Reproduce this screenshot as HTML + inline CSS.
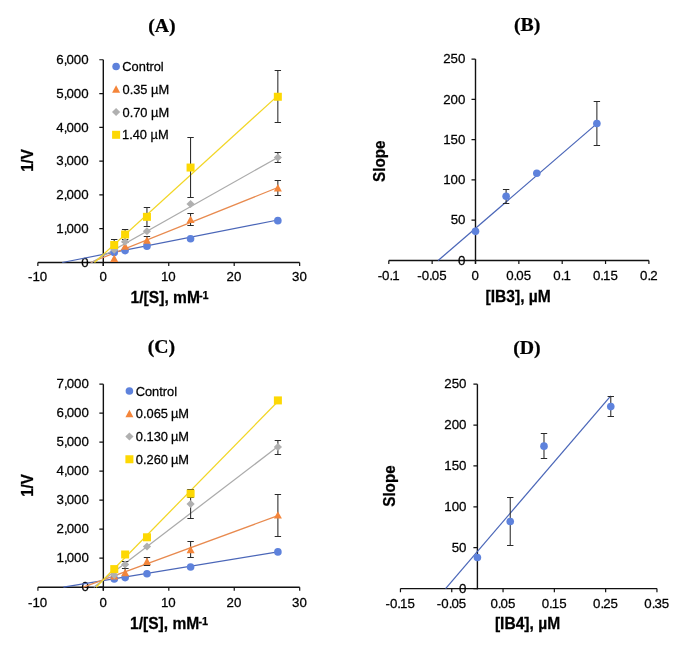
<!DOCTYPE html>
<html><head><meta charset="utf-8"><title>Lineweaver-Burk plots</title><style>
html,body{margin:0;padding:0;background:#fff;width:685px;height:651px;overflow:hidden;font-family:"Liberation Sans",sans-serif}
svg{display:block;filter:blur(0.35px)}
</style></head><body>
<svg width="685" height="651" viewBox="0 0 685 651">
<rect width="685" height="651" fill="#fff"/>
<path d="M37.85 262.50 H299.65" stroke="#111" stroke-width="1.4" fill="none"/>
<path d="M103.30 265.90 V59.76" stroke="#111" stroke-width="1.4" fill="none"/>
<path d="M37.85 262.50 V266.10 M103.30 262.50 V266.10 M168.75 262.50 V266.10 M234.20 262.50 V266.10 M299.65 262.50 V266.10 " stroke="#111" stroke-width="1.2" fill="none"/>
<path d="M99.30 262.50 H103.30 M99.30 228.71 H103.30 M99.30 194.92 H103.30 M99.30 161.13 H103.30 M99.30 127.34 H103.30 M99.30 93.55 H103.30 M99.30 59.76 H103.30 " stroke="#111" stroke-width="1.2" fill="none"/>
<text transform="translate(28.00 281.36) scale(1 1.0075)" font-family='"Liberation Sans", sans-serif' font-weight="400" font-size="13.3" fill="#000" stroke="#000" stroke-width="0.25">-10</text>
<text transform="translate(99.40 281.36) scale(1 1.0075)" font-family='"Liberation Sans", sans-serif' font-weight="400" font-size="13.3" fill="#000" stroke="#000" stroke-width="0.25">0</text>
<text transform="translate(160.91 281.36) scale(1 1.0075)" font-family='"Liberation Sans", sans-serif' font-weight="400" font-size="13.3" fill="#000" stroke="#000" stroke-width="0.25">10</text>
<text transform="translate(226.53 281.36) scale(1 1.0075)" font-family='"Liberation Sans", sans-serif' font-weight="400" font-size="13.3" fill="#000" stroke="#000" stroke-width="0.25">20</text>
<text transform="translate(292.06 281.36) scale(1 1.0075)" font-family='"Liberation Sans", sans-serif' font-weight="400" font-size="13.3" fill="#000" stroke="#000" stroke-width="0.25">30</text>
<text transform="translate(81.22 266.71) scale(1 1.0075)" font-family='"Liberation Sans", sans-serif' font-weight="400" font-size="13.3" fill="#000" stroke="#000" stroke-width="0.25">0</text>
<text transform="translate(56.28 232.92) scale(1 1.0075)" font-family='"Liberation Sans", sans-serif' font-weight="400" font-size="13.3" fill="#000" stroke="#000" stroke-width="0.25">1,<tspan dx="-0.94">000</tspan></text>
<text transform="translate(56.28 199.13) scale(1 1.0075)" font-family='"Liberation Sans", sans-serif' font-weight="400" font-size="13.3" fill="#000" stroke="#000" stroke-width="0.25">2,<tspan dx="-0.94">000</tspan></text>
<text transform="translate(56.28 165.34) scale(1 1.0075)" font-family='"Liberation Sans", sans-serif' font-weight="400" font-size="13.3" fill="#000" stroke="#000" stroke-width="0.25">3,<tspan dx="-0.94">000</tspan></text>
<text transform="translate(56.28 131.55) scale(1 1.0075)" font-family='"Liberation Sans", sans-serif' font-weight="400" font-size="13.3" fill="#000" stroke="#000" stroke-width="0.25">4,<tspan dx="-0.94">000</tspan></text>
<text transform="translate(56.28 97.76) scale(1 1.0075)" font-family='"Liberation Sans", sans-serif' font-weight="400" font-size="13.3" fill="#000" stroke="#000" stroke-width="0.25">5,<tspan dx="-0.94">000</tspan></text>
<text transform="translate(56.28 63.97) scale(1 1.0075)" font-family='"Liberation Sans", sans-serif' font-weight="400" font-size="13.3" fill="#000" stroke="#000" stroke-width="0.25">6,<tspan dx="-0.94">000</tspan></text>
<line x1="62.26" y1="262.50" x2="277.84" y2="219.99" stroke="#4a66b8" stroke-width="1.25"/>
<line x1="90.67" y1="262.49" x2="277.84" y2="187.51" stroke="#e88a4f" stroke-width="1.25"/>
<line x1="91.52" y1="262.49" x2="277.84" y2="157.45" stroke="#ababab" stroke-width="1.25"/>
<line x1="94.46" y1="262.50" x2="277.84" y2="95.60" stroke="#f2d625" stroke-width="1.25"/>
<path d="M125.11 242.50 V249.50 M121.91 242.50 H128.31 M121.91 249.50 H128.31" stroke="#2a2a2a" stroke-width="1.05" fill="none"/>
<path d="M146.94 236.50 V244.50 M143.74 236.50 H150.14 M143.74 244.50 H150.14" stroke="#2a2a2a" stroke-width="1.05" fill="none"/>
<path d="M190.56 213.50 V225.50 M187.36 213.50 H193.76 M187.36 225.50 H193.76" stroke="#2a2a2a" stroke-width="1.05" fill="none"/>
<path d="M277.84 180.50 V195.50 M274.64 180.50 H281.04 M274.64 195.50 H281.04" stroke="#2a2a2a" stroke-width="1.05" fill="none"/>
<path d="M277.84 152.50 V162.50 M274.64 152.50 H281.04 M274.64 162.50 H281.04" stroke="#2a2a2a" stroke-width="1.05" fill="none"/>
<path d="M114.21 239.50 V250.50 M111.01 239.50 H117.41 M111.01 250.50 H117.41" stroke="#2a2a2a" stroke-width="1.05" fill="none"/>
<path d="M125.11 229.50 V239.50 M121.91 229.50 H128.31 M121.91 239.50 H128.31" stroke="#2a2a2a" stroke-width="1.05" fill="none"/>
<path d="M146.94 207.50 V226.50 M143.74 207.50 H150.14 M143.74 226.50 H150.14" stroke="#2a2a2a" stroke-width="1.05" fill="none"/>
<path d="M190.56 137.50 V197.50 M187.36 137.50 H193.76 M187.36 197.50 H193.76" stroke="#2a2a2a" stroke-width="1.05" fill="none"/>
<path d="M277.84 70.50 V122.50 M274.64 70.50 H281.04 M274.64 122.50 H281.04" stroke="#2a2a2a" stroke-width="1.05" fill="none"/>
<circle cx="114.21" cy="252.40" r="3.8" fill="#5e82dc"/>
<circle cx="125.11" cy="250.61" r="3.8" fill="#5e82dc"/>
<circle cx="146.94" cy="246.31" r="3.8" fill="#5e82dc"/>
<circle cx="190.56" cy="238.71" r="3.8" fill="#5e82dc"/>
<circle cx="277.84" cy="220.63" r="3.8" fill="#5e82dc"/>
<path d="M114.21 254.51 L118.21 261.91 L110.21 261.91 Z" fill="#f4853a"/>
<path d="M125.11 242.31 L129.11 249.71 L121.11 249.71 Z" fill="#f4853a"/>
<path d="M146.94 236.44 L150.94 243.84 L142.94 243.84 Z" fill="#f4853a"/>
<path d="M190.56 215.65 L194.56 223.05 L186.56 223.05 Z" fill="#f4853a"/>
<path d="M277.84 184.06 L281.84 191.46 L273.84 191.46 Z" fill="#f4853a"/>
<path d="M114.21 245.63 L118.31 249.63 L114.21 253.63 L110.11 249.63 Z" fill="#b0b0b0"/>
<path d="M125.11 237.72 L129.21 241.72 L125.11 245.72 L121.01 241.72 Z" fill="#b0b0b0"/>
<path d="M146.94 227.24 L151.04 231.24 L146.94 235.24 L142.84 231.24 Z" fill="#b0b0b0"/>
<path d="M190.56 199.94 L194.66 203.94 L190.56 207.94 L186.46 203.94 Z" fill="#b0b0b0"/>
<path d="M277.84 153.48 L281.94 157.48 L277.84 161.48 L273.74 157.48 Z" fill="#b0b0b0"/>
<rect x="110.21" y="241.03" width="8.0" height="8.0" fill="#fdd803"/>
<rect x="121.11" y="230.52" width="8.0" height="8.0" fill="#fdd803"/>
<rect x="142.94" y="212.85" width="8.0" height="8.0" fill="#fdd803"/>
<rect x="186.56" y="163.55" width="8.0" height="8.0" fill="#fdd803"/>
<rect x="273.84" y="92.76" width="8.0" height="8.0" fill="#fdd803"/>
<circle cx="116.10" cy="66.50" r="3.8" fill="#5e82dc"/>
<text transform="translate(122.35 71.00) scale(1 1.0039)" font-family='"Liberation Sans", sans-serif' font-weight="400" font-size="12.85" fill="#000" stroke="#000" stroke-width="0.25">Control</text>
<path d="M116.10 85.27 L120.10 92.67 L112.10 92.67 Z" fill="#f4853a"/>
<text transform="translate(122.50 93.77) scale(1 1.0039)" font-family='"Liberation Sans", sans-serif' font-weight="400" font-size="12.85" fill="#000" stroke="#000" stroke-width="0.25">0.35 µM</text>
<path d="M116.10 108.04 L120.20 112.04 L116.10 116.04 L112.00 112.04 Z" fill="#b0b0b0"/>
<text transform="translate(122.50 116.54) scale(1 1.0039)" font-family='"Liberation Sans", sans-serif' font-weight="400" font-size="12.85" fill="#000" stroke="#000" stroke-width="0.25">0.70 µM</text>
<rect x="112.10" y="130.81" width="8.0" height="8.0" fill="#fdd803"/>
<text transform="translate(122.02 139.31) scale(1 1.0039)" font-family='"Liberation Sans", sans-serif' font-weight="400" font-size="12.85" fill="#000" stroke="#000" stroke-width="0.25">1.40 µM</text>
<text transform="translate(148.23 31.90) scale(1 0.9596)" font-family='"Liberation Serif", serif' font-weight="700" font-size="19.8" fill="#000" stroke="#000" stroke-width="0.25">(A)</text>
<text transform="translate(130.62 302.90) scale(1 1.0128)" font-family='"Liberation Sans", sans-serif' font-weight="700" font-size="15.6" fill="#000" stroke="#000" stroke-width="0.25">1/[S], mM</text>
<text transform="translate(198.99 298.70) scale(1 1.0000)" font-family='"Liberation Sans", sans-serif' font-weight="700" font-size="10.9" fill="#000" stroke="#000" stroke-width="0.25">-1</text>
<text transform="translate(32.80 160.00) rotate(-90) scale(1 1.0658)" x="-11.83" y="0" font-family='"Liberation Sans", sans-serif' font-weight="700" font-size="15.2" fill="#000" stroke="#000" stroke-width="0.25">1/V</text>
<path d="M37.90 587.20 H299.70" stroke="#111" stroke-width="1.4" fill="none"/>
<path d="M103.35 590.60 V384.20" stroke="#111" stroke-width="1.4" fill="none"/>
<path d="M37.90 587.20 V590.80 M103.35 587.20 V590.80 M168.80 587.20 V590.80 M234.25 587.20 V590.80 M299.70 587.20 V590.80 " stroke="#111" stroke-width="1.2" fill="none"/>
<path d="M99.35 587.20 H103.35 M99.35 558.20 H103.35 M99.35 529.20 H103.35 M99.35 500.20 H103.35 M99.35 471.20 H103.35 M99.35 442.20 H103.35 M99.35 413.20 H103.35 M99.35 384.20 H103.35 " stroke="#111" stroke-width="1.2" fill="none"/>
<text transform="translate(28.05 606.66) scale(1 1.0075)" font-family='"Liberation Sans", sans-serif' font-weight="400" font-size="13.3" fill="#000" stroke="#000" stroke-width="0.25">-10</text>
<text transform="translate(99.45 606.66) scale(1 1.0075)" font-family='"Liberation Sans", sans-serif' font-weight="400" font-size="13.3" fill="#000" stroke="#000" stroke-width="0.25">0</text>
<text transform="translate(160.96 606.66) scale(1 1.0075)" font-family='"Liberation Sans", sans-serif' font-weight="400" font-size="13.3" fill="#000" stroke="#000" stroke-width="0.25">10</text>
<text transform="translate(226.58 606.66) scale(1 1.0075)" font-family='"Liberation Sans", sans-serif' font-weight="400" font-size="13.3" fill="#000" stroke="#000" stroke-width="0.25">20</text>
<text transform="translate(292.11 606.66) scale(1 1.0075)" font-family='"Liberation Sans", sans-serif' font-weight="400" font-size="13.3" fill="#000" stroke="#000" stroke-width="0.25">30</text>
<text transform="translate(81.52 591.41) scale(1 1.0075)" font-family='"Liberation Sans", sans-serif' font-weight="400" font-size="13.3" fill="#000" stroke="#000" stroke-width="0.25">0</text>
<text transform="translate(56.58 562.41) scale(1 1.0075)" font-family='"Liberation Sans", sans-serif' font-weight="400" font-size="13.3" fill="#000" stroke="#000" stroke-width="0.25">1,<tspan dx="-0.94">000</tspan></text>
<text transform="translate(56.58 533.41) scale(1 1.0075)" font-family='"Liberation Sans", sans-serif' font-weight="400" font-size="13.3" fill="#000" stroke="#000" stroke-width="0.25">2,<tspan dx="-0.94">000</tspan></text>
<text transform="translate(56.58 504.41) scale(1 1.0075)" font-family='"Liberation Sans", sans-serif' font-weight="400" font-size="13.3" fill="#000" stroke="#000" stroke-width="0.25">3,<tspan dx="-0.94">000</tspan></text>
<text transform="translate(56.58 475.41) scale(1 1.0075)" font-family='"Liberation Sans", sans-serif' font-weight="400" font-size="13.3" fill="#000" stroke="#000" stroke-width="0.25">4,<tspan dx="-0.94">000</tspan></text>
<text transform="translate(56.58 446.41) scale(1 1.0075)" font-family='"Liberation Sans", sans-serif' font-weight="400" font-size="13.3" fill="#000" stroke="#000" stroke-width="0.25">5,<tspan dx="-0.94">000</tspan></text>
<text transform="translate(56.58 417.41) scale(1 1.0075)" font-family='"Liberation Sans", sans-serif' font-weight="400" font-size="13.3" fill="#000" stroke="#000" stroke-width="0.25">6,<tspan dx="-0.94">000</tspan></text>
<text transform="translate(56.58 388.41) scale(1 1.0075)" font-family='"Liberation Sans", sans-serif' font-weight="400" font-size="13.3" fill="#000" stroke="#000" stroke-width="0.25">7,<tspan dx="-0.94">000</tspan></text>
<line x1="63.43" y1="587.18" x2="277.89" y2="551.93" stroke="#4a66b8" stroke-width="1.25"/>
<line x1="83.32" y1="587.20" x2="277.89" y2="515.65" stroke="#e88a4f" stroke-width="1.25"/>
<line x1="93.79" y1="587.19" x2="277.89" y2="446.57" stroke="#ababab" stroke-width="1.25"/>
<line x1="96.02" y1="587.20" x2="277.89" y2="401.46" stroke="#f2d625" stroke-width="1.25"/>
<path d="M125.16 568.50 V576.50 M121.96 568.50 H128.36 M121.96 576.50 H128.36" stroke="#2a2a2a" stroke-width="1.05" fill="none"/>
<path d="M146.99 557.50 V565.50 M143.79 557.50 H150.19 M143.79 565.50 H150.19" stroke="#2a2a2a" stroke-width="1.05" fill="none"/>
<path d="M190.61 541.50 V557.50 M187.41 541.50 H193.81 M187.41 557.50 H193.81" stroke="#2a2a2a" stroke-width="1.05" fill="none"/>
<path d="M277.89 494.50 V536.50 M274.69 494.50 H281.09 M274.69 536.50 H281.09" stroke="#2a2a2a" stroke-width="1.05" fill="none"/>
<path d="M125.16 561.50 V568.50 M121.96 561.50 H128.36 M121.96 568.50 H128.36" stroke="#2a2a2a" stroke-width="1.05" fill="none"/>
<path d="M190.61 489.50 V518.50 M187.41 489.50 H193.81 M187.41 518.50 H193.81" stroke="#2a2a2a" stroke-width="1.05" fill="none"/>
<path d="M277.89 440.50 V454.50 M274.69 440.50 H281.09 M274.69 454.50 H281.09" stroke="#2a2a2a" stroke-width="1.05" fill="none"/>
<path d="M190.61 489.50 V497.50 M187.41 489.50 H193.81 M187.41 497.50 H193.81" stroke="#2a2a2a" stroke-width="1.05" fill="none"/>
<circle cx="114.26" cy="578.91" r="3.8" fill="#5e82dc"/>
<circle cx="125.16" cy="577.60" r="3.8" fill="#5e82dc"/>
<circle cx="146.99" cy="573.69" r="3.8" fill="#5e82dc"/>
<circle cx="190.61" cy="566.99" r="3.8" fill="#5e82dc"/>
<circle cx="277.89" cy="551.91" r="3.8" fill="#5e82dc"/>
<path d="M114.26 572.09 L118.26 579.49 L110.26 579.49 Z" fill="#f4853a"/>
<path d="M125.16 568.79 L129.16 576.19 L121.16 576.19 Z" fill="#f4853a"/>
<path d="M146.99 557.51 L150.99 564.91 L142.99 564.91 Z" fill="#f4853a"/>
<path d="M190.61 545.79 L194.61 553.19 L186.61 553.19 Z" fill="#f4853a"/>
<path d="M277.89 511.19 L281.89 518.59 L273.89 518.59 Z" fill="#f4853a"/>
<path d="M114.26 571.02 L118.36 575.02 L114.26 579.02 L110.16 575.02 Z" fill="#b0b0b0"/>
<path d="M125.16 560.61 L129.26 564.61 L125.16 568.61 L121.06 564.61 Z" fill="#b0b0b0"/>
<path d="M146.99 542.60 L151.09 546.60 L146.99 550.60 L142.89 546.60 Z" fill="#b0b0b0"/>
<path d="M190.61 500.09 L194.71 504.09 L190.61 508.09 L186.51 504.09 Z" fill="#b0b0b0"/>
<path d="M277.89 443.10 L281.99 447.10 L277.89 451.10 L273.79 447.10 Z" fill="#b0b0b0"/>
<rect x="110.26" y="565.10" width="8.0" height="8.0" fill="#fdd803"/>
<rect x="121.16" y="550.49" width="8.0" height="8.0" fill="#fdd803"/>
<rect x="142.99" y="533.29" width="8.0" height="8.0" fill="#fdd803"/>
<rect x="186.61" y="489.59" width="8.0" height="8.0" fill="#fdd803"/>
<rect x="273.89" y="396.41" width="8.0" height="8.0" fill="#fdd803"/>
<circle cx="129.40" cy="391.00" r="3.8" fill="#5e82dc"/>
<text transform="translate(135.65 395.50) scale(1 1.0039)" font-family='"Liberation Sans", sans-serif' font-weight="400" font-size="12.85" fill="#000" stroke="#000" stroke-width="0.25">Control</text>
<path d="M129.40 409.75 L133.40 417.15 L125.40 417.15 Z" fill="#f4853a"/>
<text transform="translate(135.80 418.25) scale(1 1.0039)" font-family='"Liberation Sans", sans-serif' font-weight="400" font-size="12.85" fill="#000" stroke="#000" stroke-width="0.25">0.065 <tspan dx="-0.56">µM</tspan></text>
<path d="M129.40 432.50 L133.50 436.50 L129.40 440.50 L125.30 436.50 Z" fill="#b0b0b0"/>
<text transform="translate(135.80 441.00) scale(1 1.0039)" font-family='"Liberation Sans", sans-serif' font-weight="400" font-size="12.85" fill="#000" stroke="#000" stroke-width="0.25">0.130 <tspan dx="-0.56">µM</tspan></text>
<rect x="125.40" y="455.25" width="8.0" height="8.0" fill="#fdd803"/>
<text transform="translate(135.80 463.75) scale(1 1.0039)" font-family='"Liberation Sans", sans-serif' font-weight="400" font-size="12.85" fill="#000" stroke="#000" stroke-width="0.25">0.260 <tspan dx="-0.56">µM</tspan></text>
<text transform="translate(147.73 352.80) scale(1 0.9596)" font-family='"Liberation Serif", serif' font-weight="700" font-size="19.8" fill="#000" stroke="#000" stroke-width="0.25">(C)</text>
<text transform="translate(130.02 628.90) scale(1 1.0128)" font-family='"Liberation Sans", sans-serif' font-weight="700" font-size="15.6" fill="#000" stroke="#000" stroke-width="0.25">1/[S], mM</text>
<text transform="translate(198.39 624.70) scale(1 1.0000)" font-family='"Liberation Sans", sans-serif' font-weight="700" font-size="10.9" fill="#000" stroke="#000" stroke-width="0.25">-1</text>
<text transform="translate(32.80 485.00) rotate(-90) scale(1 1.0658)" x="-11.83" y="0" font-family='"Liberation Sans", sans-serif' font-weight="700" font-size="15.2" fill="#000" stroke="#000" stroke-width="0.25">1/V</text>
<path d="M388.80 260.50 H648.90" stroke="#111" stroke-width="1.4" fill="none"/>
<path d="M475.50 263.90 V59.10" stroke="#111" stroke-width="1.4" fill="none"/>
<path d="M388.80 260.50 V264.10 M432.15 260.50 V264.10 M475.50 260.50 V264.10 M518.85 260.50 V264.10 M562.20 260.50 V264.10 M605.55 260.50 V264.10 M648.90 260.50 V264.10 " stroke="#111" stroke-width="1.2" fill="none"/>
<path d="M471.50 260.50 H475.50 M471.50 220.22 H475.50 M471.50 179.94 H475.50 M471.50 139.66 H475.50 M471.50 99.38 H475.50 M471.50 59.10 H475.50 " stroke="#111" stroke-width="1.2" fill="none"/>
<text transform="translate(377.64 279.96) scale(1 1.0075)" font-family='"Liberation Sans", sans-serif' font-weight="400" font-size="13.3" fill="#000" stroke="#000" stroke-width="0.25">-0.<tspan dx="-0.94">1</tspan></text>
<text transform="translate(417.25 279.96) scale(1 1.0075)" font-family='"Liberation Sans", sans-serif' font-weight="400" font-size="13.3" fill="#000" stroke="#000" stroke-width="0.25">-0.<tspan dx="-0.94">05</tspan></text>
<text transform="translate(471.60 279.96) scale(1 1.0075)" font-family='"Liberation Sans", sans-serif' font-weight="400" font-size="13.3" fill="#000" stroke="#000" stroke-width="0.25">0</text>
<text transform="translate(506.20 279.96) scale(1 1.0075)" font-family='"Liberation Sans", sans-serif' font-weight="400" font-size="13.3" fill="#000" stroke="#000" stroke-width="0.25">0.<tspan dx="-0.94">05</tspan></text>
<text transform="translate(553.29 279.96) scale(1 1.0075)" font-family='"Liberation Sans", sans-serif' font-weight="400" font-size="13.3" fill="#000" stroke="#000" stroke-width="0.25">0.<tspan dx="-0.94">1</tspan></text>
<text transform="translate(592.90 279.96) scale(1 1.0075)" font-family='"Liberation Sans", sans-serif' font-weight="400" font-size="13.3" fill="#000" stroke="#000" stroke-width="0.25">0.<tspan dx="-0.94">15</tspan></text>
<text transform="translate(640.00 279.96) scale(1 1.0075)" font-family='"Liberation Sans", sans-serif' font-weight="400" font-size="13.3" fill="#000" stroke="#000" stroke-width="0.25">0.<tspan dx="-0.94">2</tspan></text>
<text transform="translate(458.02 264.71) scale(1 1.0075)" font-family='"Liberation Sans", sans-serif' font-weight="400" font-size="13.3" fill="#000" stroke="#000" stroke-width="0.25">0</text>
<text transform="translate(450.63 224.43) scale(1 1.0075)" font-family='"Liberation Sans", sans-serif' font-weight="400" font-size="13.3" fill="#000" stroke="#000" stroke-width="0.25">50</text>
<text transform="translate(443.23 184.15) scale(1 1.0075)" font-family='"Liberation Sans", sans-serif' font-weight="400" font-size="13.3" fill="#000" stroke="#000" stroke-width="0.25">100</text>
<text transform="translate(443.23 143.87) scale(1 1.0075)" font-family='"Liberation Sans", sans-serif' font-weight="400" font-size="13.3" fill="#000" stroke="#000" stroke-width="0.25">150</text>
<text transform="translate(443.23 103.59) scale(1 1.0075)" font-family='"Liberation Sans", sans-serif' font-weight="400" font-size="13.3" fill="#000" stroke="#000" stroke-width="0.25">200</text>
<text transform="translate(443.23 63.31) scale(1 1.0075)" font-family='"Liberation Sans", sans-serif' font-weight="400" font-size="13.3" fill="#000" stroke="#000" stroke-width="0.25">250</text>
<line x1="438.13" y1="260.50" x2="596.88" y2="123.61" stroke="#4a66b8" stroke-width="1.25"/>
<path d="M506.11 189.50 V203.50 M502.91 189.50 H509.31 M502.91 203.50 H509.31" stroke="#2a2a2a" stroke-width="1.05" fill="none"/>
<path d="M596.88 101.50 V145.50 M593.68 101.50 H600.08 M593.68 145.50 H600.08" stroke="#2a2a2a" stroke-width="1.05" fill="none"/>
<circle cx="475.50" cy="231.34" r="3.8" fill="#5e82dc"/>
<circle cx="506.11" cy="196.29" r="3.8" fill="#5e82dc"/>
<circle cx="536.80" cy="173.25" r="3.8" fill="#5e82dc"/>
<circle cx="596.88" cy="123.47" r="3.8" fill="#5e82dc"/>
<text transform="translate(514.03 30.80) scale(1 0.9596)" font-family='"Liberation Serif", serif' font-weight="700" font-size="19.8" fill="#000" stroke="#000" stroke-width="0.25">(B)</text>
<text transform="translate(485.52 301.60) scale(1 1.0128)" font-family='"Liberation Sans", sans-serif' font-weight="700" font-size="15.6" fill="#000" stroke="#000" stroke-width="0.25">[IB3], µM</text>
<text transform="translate(384.60 161.25) rotate(-90) scale(1 1.0658)" x="-20.65" y="0" font-family='"Liberation Sans", sans-serif' font-weight="700" font-size="15.2" fill="#000" stroke="#000" stroke-width="0.25">Slope</text>
<path d="M400.45 588.60 H656.95" stroke="#111" stroke-width="1.4" fill="none"/>
<path d="M477.40 589.30 V384.20" stroke="#111" stroke-width="1.4" fill="none"/>
<path d="M400.45 588.60 V592.20 M451.75 588.60 V592.20 M503.05 588.60 V592.20 M554.35 588.60 V592.20 M605.65 588.60 V592.20 M656.95 588.60 V592.20 " stroke="#111" stroke-width="1.2" fill="none"/>
<path d="M473.40 588.60 H477.40 M473.40 547.72 H477.40 M473.40 506.84 H477.40 M473.40 465.96 H477.40 M473.40 425.08 H477.40 M473.40 384.20 H477.40 " stroke="#111" stroke-width="1.2" fill="none"/>
<text transform="translate(385.55 608.26) scale(1 1.0075)" font-family='"Liberation Sans", sans-serif' font-weight="400" font-size="13.3" fill="#000" stroke="#000" stroke-width="0.25">-0.<tspan dx="-0.94">15</tspan></text>
<text transform="translate(436.85 608.26) scale(1 1.0075)" font-family='"Liberation Sans", sans-serif' font-weight="400" font-size="13.3" fill="#000" stroke="#000" stroke-width="0.25">-0.<tspan dx="-0.94">05</tspan></text>
<text transform="translate(490.40 608.26) scale(1 1.0075)" font-family='"Liberation Sans", sans-serif' font-weight="400" font-size="13.3" fill="#000" stroke="#000" stroke-width="0.25">0.<tspan dx="-0.94">05</tspan></text>
<text transform="translate(541.70 608.26) scale(1 1.0075)" font-family='"Liberation Sans", sans-serif' font-weight="400" font-size="13.3" fill="#000" stroke="#000" stroke-width="0.25">0.<tspan dx="-0.94">15</tspan></text>
<text transform="translate(593.00 608.26) scale(1 1.0075)" font-family='"Liberation Sans", sans-serif' font-weight="400" font-size="13.3" fill="#000" stroke="#000" stroke-width="0.25">0.<tspan dx="-0.94">25</tspan></text>
<text transform="translate(644.30 608.26) scale(1 1.0075)" font-family='"Liberation Sans", sans-serif' font-weight="400" font-size="13.3" fill="#000" stroke="#000" stroke-width="0.25">0.<tspan dx="-0.94">35</tspan></text>
<text transform="translate(459.12 592.81) scale(1 1.0075)" font-family='"Liberation Sans", sans-serif' font-weight="400" font-size="13.3" fill="#000" stroke="#000" stroke-width="0.25">0</text>
<text transform="translate(451.73 551.93) scale(1 1.0075)" font-family='"Liberation Sans", sans-serif' font-weight="400" font-size="13.3" fill="#000" stroke="#000" stroke-width="0.25">50</text>
<text transform="translate(444.33 511.05) scale(1 1.0075)" font-family='"Liberation Sans", sans-serif' font-weight="400" font-size="13.3" fill="#000" stroke="#000" stroke-width="0.25">100</text>
<text transform="translate(444.33 470.17) scale(1 1.0075)" font-family='"Liberation Sans", sans-serif' font-weight="400" font-size="13.3" fill="#000" stroke="#000" stroke-width="0.25">150</text>
<text transform="translate(444.33 429.29) scale(1 1.0075)" font-family='"Liberation Sans", sans-serif' font-weight="400" font-size="13.3" fill="#000" stroke="#000" stroke-width="0.25">200</text>
<text transform="translate(444.33 388.41) scale(1 1.0075)" font-family='"Liberation Sans", sans-serif' font-weight="400" font-size="13.3" fill="#000" stroke="#000" stroke-width="0.25">250</text>
<line x1="445.59" y1="588.57" x2="610.78" y2="395.94" stroke="#4a66b8" stroke-width="1.25"/>
<path d="M510.23 497.50 V545.50 M507.03 497.50 H513.43 M507.03 545.50 H513.43" stroke="#2a2a2a" stroke-width="1.05" fill="none"/>
<path d="M543.99 433.50 V458.50 M540.79 433.50 H547.19 M540.79 458.50 H547.19" stroke="#2a2a2a" stroke-width="1.05" fill="none"/>
<path d="M610.78 396.50 V416.50 M607.58 396.50 H613.98 M607.58 416.50 H613.98" stroke="#2a2a2a" stroke-width="1.05" fill="none"/>
<circle cx="477.40" cy="557.45" r="3.8" fill="#5e82dc"/>
<circle cx="510.23" cy="521.56" r="3.8" fill="#5e82dc"/>
<circle cx="543.99" cy="446.17" r="3.8" fill="#5e82dc"/>
<circle cx="610.78" cy="406.60" r="3.8" fill="#5e82dc"/>
<text transform="translate(513.23 353.50) scale(1 0.9596)" font-family='"Liberation Serif", serif' font-weight="700" font-size="19.8" fill="#000" stroke="#000" stroke-width="0.25">(D)</text>
<text transform="translate(494.92 628.90) scale(1 1.0128)" font-family='"Liberation Sans", sans-serif' font-weight="700" font-size="15.6" fill="#000" stroke="#000" stroke-width="0.25">[IB4], µM</text>
<text transform="translate(395.10 486.10) rotate(-90) scale(1 1.0658)" x="-20.65" y="0" font-family='"Liberation Sans", sans-serif' font-weight="700" font-size="15.2" fill="#000" stroke="#000" stroke-width="0.25">Slope</text>
</svg>
</body></html>
